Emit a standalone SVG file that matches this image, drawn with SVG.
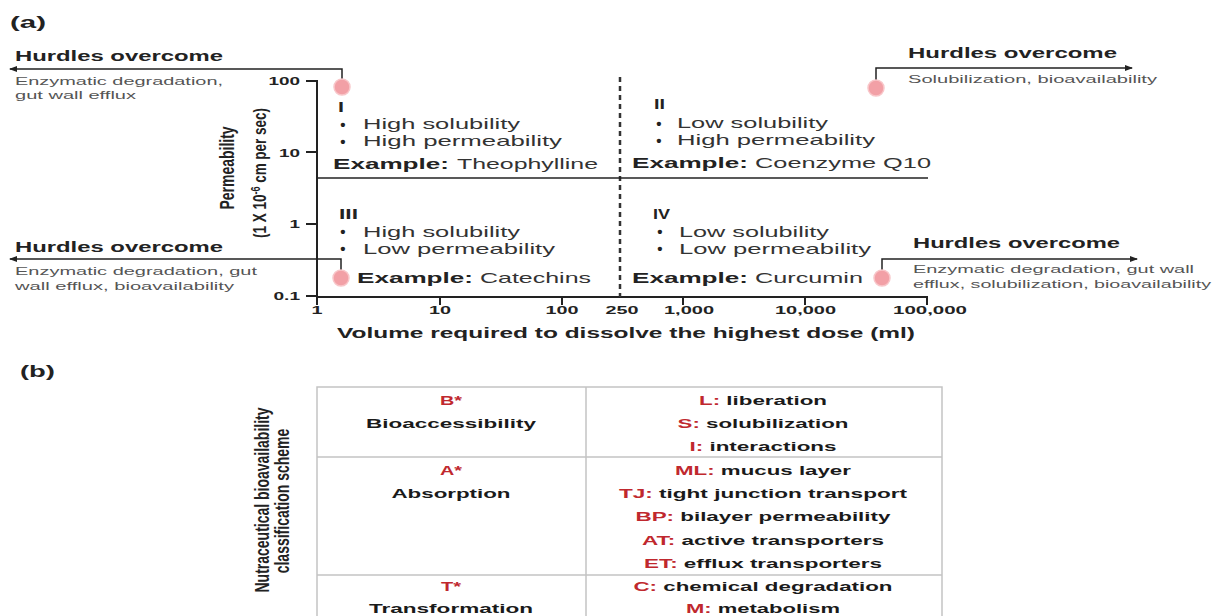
<svg xmlns="http://www.w3.org/2000/svg" width="1218" height="616" viewBox="0 0 1218 616">
<defs>
<style>
text{font-family:"Liberation Sans",Arial,Helvetica,sans-serif;}
.b{font-weight:bold;fill:#222;}
.r{font-weight:normal;fill:#333;}
.hd{font-weight:bold;fill:#222;font-size:14px;}
.ds{font-weight:normal;fill:#555;font-size:11.5px;}
.tk{font-weight:bold;fill:#222;font-size:11px;}
.q{font-weight:normal;fill:#333;font-size:14.5px;}
.qb{font-weight:bold;fill:#222;font-size:14.5px;}
.rn{font-weight:bold;fill:#222;font-size:14px;}
.bul{font-weight:bold;fill:#222;font-size:15px;}
.tb{font-weight:bold;fill:#1a1a1a;font-size:13px;}
.red{fill:#c0282e;}
.ax{stroke:#222;stroke-width:2;fill:none;}
.cn{stroke:#222;stroke-width:1.5;fill:none;}
.dot{fill:#f2a0a6;stroke:#f8c6c9;stroke-width:1.5;}
.grid{stroke:#c4c4c4;stroke-width:1.5;fill:none;}
</style>
<marker id="arr" markerUnits="userSpaceOnUse" markerWidth="8" markerHeight="6" refX="7" refY="3" orient="auto">
<path d="M0,0 L8,3 L0,6 z" fill="#222"/>
</marker>
</defs>
<rect width="1218" height="616" fill="#fff"/>

<g id="label-a"><text class="b" x="10" y="28" font-size="17" textLength="36" lengthAdjust="spacingAndGlyphs">(a)</text></g>

<g id="axes">
<path class="ax" d="M317,80 V297 H928"/>
<path class="ax" d="M306,81 H317 M306,152 H317 M306,224 H317 M306,296 H317"/>
<path class="ax" d="M317,297 V305 M440,297 V305 M562,297 V305 M683,297 V305 M805,297 V305 M927,297 V305"/>
<text class="tk" x="268.5" y="85" textLength="31.5" lengthAdjust="spacingAndGlyphs">100</text>
<text class="tk" x="279" y="157" textLength="21" lengthAdjust="spacingAndGlyphs">10</text>
<text class="tk" x="289.5" y="228" textLength="10.5" lengthAdjust="spacingAndGlyphs">1</text>
<text class="tk" x="273.5" y="300" textLength="26.5" lengthAdjust="spacingAndGlyphs">0.1</text>
<text class="tk" x="311.5" y="314" textLength="11" lengthAdjust="spacingAndGlyphs">1</text>
<text class="tk" x="429" y="314" textLength="22" lengthAdjust="spacingAndGlyphs">10</text>
<text class="tk" x="545.5" y="314" textLength="33" lengthAdjust="spacingAndGlyphs">100</text>
<text class="tk" x="605.5" y="314" textLength="33" lengthAdjust="spacingAndGlyphs">250</text>
<text class="tk" x="664" y="314" textLength="50" lengthAdjust="spacingAndGlyphs">1,000</text>
<text class="tk" x="775" y="314" textLength="61" lengthAdjust="spacingAndGlyphs">10,000</text>
<text class="tk" x="893" y="314" textLength="74" lengthAdjust="spacingAndGlyphs">100,000</text>
<text class="b" x="337" y="338" font-size="14.2" textLength="578" lengthAdjust="spacingAndGlyphs">Volume required to dissolve the highest dose (ml)</text>
<text class="b" font-size="14" text-anchor="middle" transform="translate(234,168) rotate(-90) scale(1,1.4)">Permeability</text>
<text class="b" font-size="13.5" text-anchor="middle" transform="translate(266,173) rotate(-90) scale(1,1.4)">(1 X 10<tspan font-size="9" dy="-4">-6</tspan><tspan dy="4"> cm per sec)</tspan></text>
<path d="M620,77 V297" stroke="#333" stroke-width="2.5" stroke-dasharray="5,4" fill="none"/>
<path d="M317,178 H928" stroke="#222" stroke-width="1.5" fill="none"/>
</g>

<g id="connectors">
<path class="cn" d="M342,79 V69 H10" marker-end="url(#arr)"/>
<path class="cn" d="M341,270 V259 H10" marker-end="url(#arr)"/>
<path class="cn" d="M876,80 V68 H1132" marker-end="url(#arr)"/>
<path class="cn" d="M882,270 V259 H1137" marker-end="url(#arr)"/>
</g>

<g id="quadrant-I">
<text class="rn" x="338" y="112" textLength="6" lengthAdjust="spacingAndGlyphs">I</text>
<text class="bul" x="343" y="130" text-anchor="middle">•</text>
<text class="bul" x="343" y="147" text-anchor="middle">•</text>
<text class="q" x="363" y="129" textLength="157" lengthAdjust="spacingAndGlyphs">High solubility</text>
<text class="q" x="363" y="146" textLength="199" lengthAdjust="spacingAndGlyphs">High permeability</text>
<text class="qb" x="333" y="169" textLength="116" lengthAdjust="spacingAndGlyphs">Example:</text>
<text class="q" x="457" y="169" textLength="141" lengthAdjust="spacingAndGlyphs">Theophylline</text>
</g>

<g id="quadrant-II">
<text class="rn" x="654" y="109" textLength="11" lengthAdjust="spacingAndGlyphs">II</text>
<text class="bul" x="659" y="129" text-anchor="middle">•</text>
<text class="bul" x="659" y="146" text-anchor="middle">•</text>
<text class="q" x="677" y="128" textLength="151" lengthAdjust="spacingAndGlyphs">Low solubility</text>
<text class="q" x="677" y="145" textLength="198" lengthAdjust="spacingAndGlyphs">High permeability</text>
<text class="qb" x="632" y="168" textLength="116" lengthAdjust="spacingAndGlyphs">Example:</text>
<text class="q" x="755" y="168" textLength="176" lengthAdjust="spacingAndGlyphs">Coenzyme Q10</text>
</g>

<g id="quadrant-III">
<text class="rn" x="339" y="219" textLength="19" lengthAdjust="spacingAndGlyphs">III</text>
<text class="bul" x="343" y="237" text-anchor="middle">•</text>
<text class="bul" x="343" y="254" text-anchor="middle">•</text>
<text class="q" x="363" y="237" textLength="157" lengthAdjust="spacingAndGlyphs">High solubility</text>
<text class="q" x="363" y="254" textLength="192" lengthAdjust="spacingAndGlyphs">Low permeability</text>
<text class="qb" x="357" y="283" textLength="116" lengthAdjust="spacingAndGlyphs">Example:</text>
<text class="q" x="480" y="283" textLength="111" lengthAdjust="spacingAndGlyphs">Catechins</text>
</g>

<g id="quadrant-IV">
<text class="rn" x="653" y="219" textLength="17" lengthAdjust="spacingAndGlyphs">IV</text>
<text class="bul" x="660" y="237" text-anchor="middle">•</text>
<text class="bul" x="660" y="254" text-anchor="middle">•</text>
<text class="q" x="679" y="237" textLength="150" lengthAdjust="spacingAndGlyphs">Low solubility</text>
<text class="q" x="679" y="254" textLength="192" lengthAdjust="spacingAndGlyphs">Low permeability</text>
<text class="qb" x="632" y="283" textLength="116" lengthAdjust="spacingAndGlyphs">Example:</text>
<text class="q" x="755" y="283" textLength="108" lengthAdjust="spacingAndGlyphs">Curcumin</text>
</g>

<g id="hurdle-I">
<circle class="dot" cx="342" cy="87" r="8"/>
<text class="hd" x="15" y="61" textLength="208" lengthAdjust="spacingAndGlyphs">Hurdles overcome</text>
<text class="ds" x="15" y="85" textLength="208" lengthAdjust="spacingAndGlyphs">Enzymatic degradation,</text>
<text class="ds" x="15" y="99" textLength="121" lengthAdjust="spacingAndGlyphs">gut wall efflux</text>
</g>

<g id="hurdle-II">
<circle class="dot" cx="876" cy="88" r="8"/>
<text class="hd" x="908" y="58" textLength="209" lengthAdjust="spacingAndGlyphs">Hurdles overcome</text>
<text class="ds" x="908" y="83" textLength="249" lengthAdjust="spacingAndGlyphs">Solubilization, bioavailability</text>
</g>

<g id="hurdle-III">
<circle class="dot" cx="341" cy="278" r="8"/>
<text class="hd" x="15" y="252" textLength="208" lengthAdjust="spacingAndGlyphs">Hurdles overcome</text>
<text class="ds" x="15" y="275" textLength="242" lengthAdjust="spacingAndGlyphs">Enzymatic degradation, gut</text>
<text class="ds" x="15" y="290" textLength="219" lengthAdjust="spacingAndGlyphs">wall efflux, bioavailability</text>
</g>

<g id="hurdle-IV">
<circle class="dot" cx="882" cy="278" r="8"/>
<text class="hd" x="913" y="248" textLength="207" lengthAdjust="spacingAndGlyphs">Hurdles overcome</text>
<text class="ds" x="913" y="273" textLength="281" lengthAdjust="spacingAndGlyphs">Enzymatic degradation, gut wall</text>
<text class="ds" x="913" y="288" textLength="298" lengthAdjust="spacingAndGlyphs">efflux, solubilization, bioavailability</text>
</g>

<g id="label-b"><text class="b" x="20" y="377" font-size="17" textLength="35" lengthAdjust="spacingAndGlyphs">(b)</text></g>

<g id="side-label">
<text class="b" font-size="14" text-anchor="middle" transform="translate(269,500) rotate(-90) scale(1,1.4)">Nutraceutical bioavailability</text>
<text class="b" font-size="14" text-anchor="middle" transform="translate(289,501) rotate(-90) scale(1,1.4)">classification scheme</text>
</g>

<g id="table">
<path class="grid" d="M317,630 V387 H942 V630 M586,387 V630 M317,457 H942 M317,575 H942"/>
</g>

<g id="row-bioaccessibility">
<text class="tb red" x="440" y="405" textLength="22" lengthAdjust="spacingAndGlyphs">B*</text>
<text class="tb" x="366" y="428" textLength="170" lengthAdjust="spacingAndGlyphs">Bioaccessibility</text>
<text class="tb" x="699" y="405" textLength="128" lengthAdjust="spacingAndGlyphs"><tspan class="red">L:</tspan> liberation</text>
<text class="tb" x="677.5" y="428" textLength="171" lengthAdjust="spacingAndGlyphs"><tspan class="red">S:</tspan> solubilization</text>
<text class="tb" x="689.5" y="451" textLength="147" lengthAdjust="spacingAndGlyphs"><tspan class="red">I:</tspan> interactions</text>
</g>

<g id="row-absorption">
<text class="tb red" x="440" y="475" textLength="22" lengthAdjust="spacingAndGlyphs">A*</text>
<text class="tb" x="391.5" y="498" textLength="119" lengthAdjust="spacingAndGlyphs">Absorption</text>
<text class="tb" x="675" y="475" textLength="176" lengthAdjust="spacingAndGlyphs"><tspan class="red">ML:</tspan> mucus layer</text>
<text class="tb" x="619" y="498" textLength="288" lengthAdjust="spacingAndGlyphs"><tspan class="red">TJ:</tspan> tight junction transport</text>
<text class="tb" x="635.5" y="521" textLength="255" lengthAdjust="spacingAndGlyphs"><tspan class="red">BP:</tspan> bilayer permeability</text>
<text class="tb" x="642" y="545" textLength="242" lengthAdjust="spacingAndGlyphs"><tspan class="red">AT:</tspan> active transporters</text>
<text class="tb" x="644" y="568" textLength="238" lengthAdjust="spacingAndGlyphs"><tspan class="red">ET:</tspan> efflux transporters</text>
</g>

<g id="row-transformation">
<text class="tb red" x="441" y="591" textLength="20" lengthAdjust="spacingAndGlyphs">T*</text>
<text class="tb" x="369" y="613" textLength="164" lengthAdjust="spacingAndGlyphs">Transformation</text>
<text class="tb" x="633.5" y="591" textLength="259" lengthAdjust="spacingAndGlyphs"><tspan class="red">C:</tspan> chemical degradation</text>
<text class="tb" x="686" y="613" textLength="154" lengthAdjust="spacingAndGlyphs"><tspan class="red">M:</tspan> metabolism</text>
</g>
</svg>
